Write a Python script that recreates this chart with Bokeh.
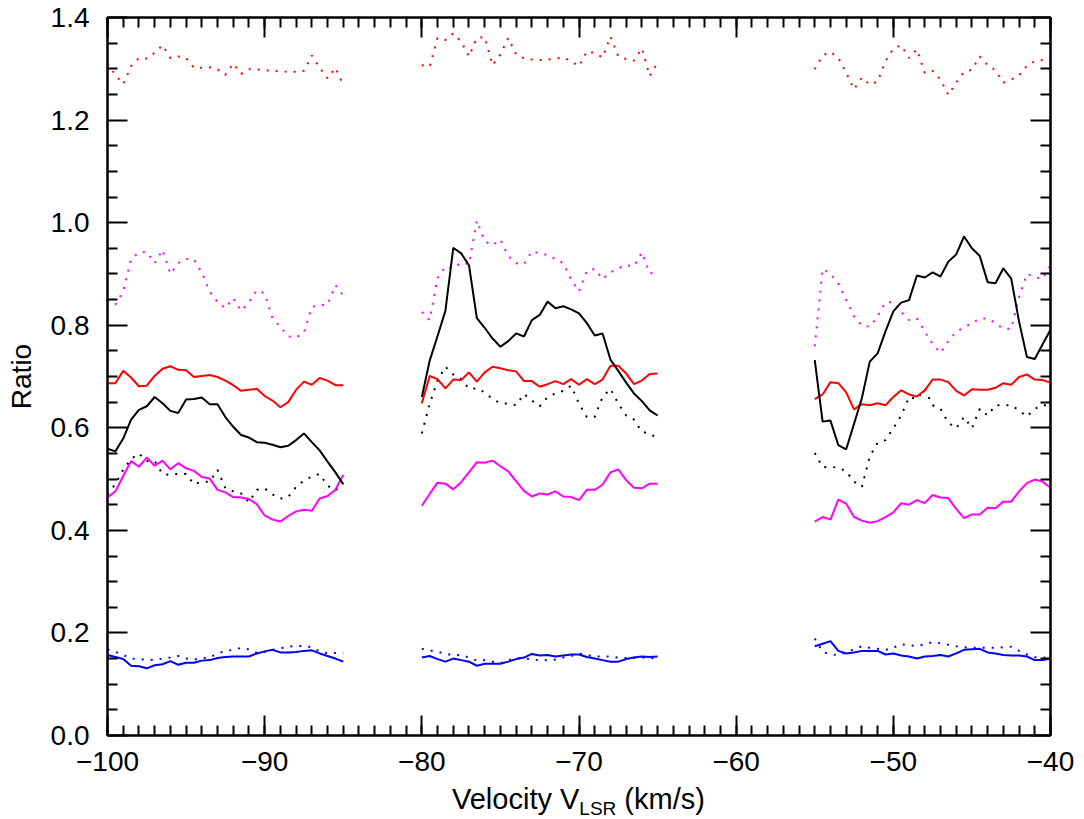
import numpy as np
from bokeh.plotting import figure
from bokeh.models import (Range1d, LinearAxis, SingleIntervalTicker, FixedTicker,
                          CustomJSTickFormatter, Div)
from bokeh.layouts import column
from bokeh.embed import file_html
from bokeh.resources import INLINE

# velocity channels (km/s), 0.5 km/s spacing in three windows
vel_a = np.arange(-100.0, -84.9, 0.5)
vel_b = np.arange(-80.0, -64.9, 0.5)
vel_c = np.arange(-55.0, -39.9, 0.5)

# ---- series values (window a, b, c) ----
red_dot_a = [1.310,1.288,1.270,1.305,1.321,1.320,1.331,1.346,1.321,1.324,1.321,1.302,1.302,1.303,1.299,1.288,1.310,1.290,1.299,1.299,1.297,1.296,1.295,1.294,1.294,1.296,1.326,1.302,1.281,1.302,1.268]
red_dot_b = [1.307,1.304,1.360,1.356,1.369,1.353,1.324,1.360,1.362,1.307,1.328,1.360,1.328,1.320,1.318,1.317,1.318,1.320,1.322,1.315,1.305,1.334,1.331,1.322,1.363,1.324,1.319,1.316,1.340,1.286,1.312]
red_dot_c = [1.299,1.326,1.333,1.321,1.292,1.260,1.283,1.269,1.275,1.315,1.339,1.346,1.321,1.338,1.292,1.296,1.279,1.249,1.273,1.294,1.298,1.324,1.307,1.297,1.273,1.279,1.287,1.306,1.315,1.317,1.320]

mag_dot_a = [0.849,0.840,0.866,0.929,0.942,0.943,0.921,0.947,0.900,0.921,0.929,0.929,0.903,0.866,0.845,0.833,0.853,0.828,0.845,0.868,0.862,0.813,0.797,0.778,0.776,0.785,0.836,0.839,0.840,0.878,0.858]
mag_dot_b = [0.826,0.810,0.892,0.914,0.911,0.922,0.919,1.004,0.964,0.956,0.967,0.935,0.921,0.919,0.944,0.940,0.937,0.929,0.921,0.889,0.866,0.906,0.910,0.890,0.903,0.911,0.917,0.915,0.942,0.901,0.903]
mag_dot_c = [0.759,0.910,0.900,0.881,0.849,0.817,0.799,0.797,0.817,0.845,0.845,0.826,0.810,0.813,0.788,0.763,0.746,0.769,0.787,0.796,0.804,0.813,0.813,0.804,0.793,0.793,0.855,0.900,0.894,0.890,0.917]

red_sol_a = [0.687,0.687,0.711,0.698,0.681,0.682,0.701,0.715,0.720,0.713,0.712,0.699,0.701,0.703,0.699,0.692,0.683,0.672,0.674,0.676,0.662,0.653,0.640,0.650,0.674,0.690,0.684,0.697,0.692,0.683,0.683]
red_sol_b = [0.648,0.701,0.695,0.677,0.694,0.693,0.708,0.690,0.708,0.719,0.716,0.712,0.710,0.691,0.691,0.680,0.685,0.691,0.685,0.695,0.684,0.695,0.685,0.694,0.721,0.721,0.706,0.685,0.692,0.705,0.706]
red_sol_c = [0.656,0.665,0.689,0.687,0.669,0.636,0.646,0.644,0.648,0.644,0.660,0.673,0.665,0.661,0.673,0.694,0.694,0.689,0.672,0.663,0.675,0.674,0.674,0.678,0.687,0.684,0.699,0.704,0.694,0.693,0.688]

blk_sol_a = [0.559,0.554,0.579,0.616,0.635,0.642,0.660,0.648,0.633,0.629,0.655,0.656,0.659,0.646,0.646,0.621,0.602,0.586,0.581,0.572,0.571,0.567,0.562,0.565,0.576,0.589,0.572,0.556,0.534,0.513,0.490]
blk_sol_b = [0.660,0.731,0.779,0.828,0.951,0.940,0.917,0.814,0.795,0.774,0.758,0.769,0.784,0.778,0.810,0.820,0.846,0.833,0.837,0.831,0.823,0.804,0.780,0.784,0.733,0.711,0.688,0.667,0.652,0.634,0.624]
blk_sol_c = [0.732,0.612,0.614,0.566,0.558,0.608,0.658,0.729,0.745,0.788,0.827,0.844,0.849,0.897,0.893,0.903,0.895,0.924,0.938,0.973,0.950,0.935,0.884,0.882,0.911,0.891,0.807,0.738,0.734,0.763,0.791]

blk_dot_a = [0.470,0.490,0.518,0.539,0.550,0.535,0.535,0.510,0.508,0.510,0.510,0.490,0.495,0.495,0.518,0.482,0.476,0.472,0.455,0.479,0.482,0.470,0.462,0.465,0.485,0.497,0.505,0.510,0.487,0.478,0.490]
blk_dot_b = [0.589,0.647,0.692,0.719,0.704,0.695,0.676,0.677,0.669,0.656,0.648,0.647,0.644,0.666,0.653,0.642,0.660,0.667,0.672,0.682,0.647,0.621,0.621,0.660,0.676,0.647,0.624,0.616,0.592,0.589,0.579]
blk_dot_c = [0.551,0.523,0.524,0.522,0.515,0.495,0.485,0.544,0.571,0.576,0.599,0.624,0.660,0.656,0.676,0.644,0.637,0.610,0.599,0.621,0.599,0.637,0.624,0.644,0.644,0.644,0.634,0.622,0.637,0.644,0.644]

mag_sol_a = [0.464,0.476,0.506,0.535,0.524,0.542,0.526,0.536,0.519,0.531,0.521,0.516,0.504,0.501,0.479,0.474,0.465,0.464,0.461,0.451,0.429,0.421,0.417,0.428,0.437,0.440,0.438,0.462,0.467,0.479,0.508]
mag_sol_b = [0.448,0.471,0.493,0.491,0.480,0.494,0.513,0.533,0.532,0.536,0.525,0.515,0.496,0.477,0.466,0.472,0.470,0.476,0.466,0.465,0.459,0.479,0.479,0.489,0.513,0.519,0.498,0.483,0.482,0.491,0.491]
mag_sol_c = [0.417,0.426,0.421,0.460,0.452,0.426,0.419,0.415,0.418,0.426,0.435,0.453,0.450,0.459,0.453,0.469,0.464,0.463,0.442,0.424,0.431,0.431,0.444,0.443,0.456,0.456,0.476,0.492,0.499,0.495,0.483]

blu_sol_a = [0.157,0.153,0.149,0.136,0.135,0.131,0.137,0.139,0.145,0.138,0.142,0.142,0.146,0.147,0.151,0.153,0.154,0.154,0.154,0.160,0.164,0.167,0.162,0.162,0.163,0.165,0.166,0.160,0.155,0.150,0.144]
blu_sol_b = [0.152,0.155,0.149,0.144,0.150,0.147,0.144,0.136,0.140,0.140,0.140,0.144,0.149,0.152,0.159,0.156,0.157,0.154,0.156,0.158,0.158,0.153,0.150,0.147,0.144,0.144,0.149,0.152,0.154,0.153,0.154]
blu_sol_c = [0.174,0.179,0.184,0.165,0.160,0.162,0.165,0.165,0.165,0.158,0.160,0.156,0.154,0.150,0.154,0.155,0.157,0.154,0.160,0.167,0.168,0.169,0.162,0.160,0.157,0.156,0.156,0.154,0.147,0.147,0.150]

blu_dot_a = [0.168,0.163,0.157,0.150,0.149,0.148,0.147,0.150,0.152,0.155,0.150,0.148,0.151,0.152,0.160,0.165,0.167,0.171,0.168,0.161,0.163,0.167,0.170,0.173,0.175,0.174,0.172,0.164,0.160,0.161,0.160]
blu_dot_b = [0.169,0.166,0.163,0.160,0.156,0.157,0.152,0.146,0.147,0.144,0.141,0.147,0.151,0.150,0.149,0.146,0.147,0.148,0.152,0.155,0.160,0.157,0.154,0.154,0.154,0.152,0.151,0.152,0.152,0.151,0.150]
blu_dot_c = [0.189,0.163,0.158,0.157,0.162,0.168,0.174,0.171,0.169,0.167,0.171,0.178,0.176,0.174,0.178,0.182,0.180,0.177,0.174,0.172,0.171,0.171,0.171,0.171,0.172,0.173,0.165,0.158,0.153,0.152,0.151]

y_major_ticks = [0.0, 0.2, 0.4, 0.6, 0.8, 1.0, 1.2, 1.4]
y_minor_ticks = [0.05, 0.1, 0.15, 0.25, 0.3, 0.35, 0.45, 0.5, 0.55, 0.65, 0.7, 0.75,
                 0.85, 0.9, 0.95, 1.05, 1.1, 1.15, 1.25, 1.3, 1.35]

FONT = "Liberation Sans"
TICK_SIZE = "28px"

p = figure(width=1084, height=784, output_backend="svg", toolbar_location=None,
           x_range=Range1d(-100, -40), y_range=Range1d(0, 1.4),
           x_axis_type=None, y_axis_type=None,
           min_border_left=107, min_border_right=34, min_border_top=17, min_border_bottom=49)
p.grid.visible = False
p.outline_line_color = "black"
p.outline_line_width = 2
p.background_fill_color = "white"
p.border_fill_color = "white"

xfmt = CustomJSTickFormatter(code="return tick < 0 ? '\u2212' + Math.abs(tick) : String(tick);")
yfmt = CustomJSTickFormatter(code="return tick.toFixed(1);")
blank = CustomJSTickFormatter(code="return '';")

def style_axis(ax, show_labels):
    ax.axis_line_width = 2
    ax.axis_line_color = "black"
    ax.major_tick_in = 20
    ax.major_tick_out = 0
    ax.minor_tick_in = 10
    ax.minor_tick_out = 0
    ax.major_tick_line_width = 2
    ax.minor_tick_line_width = 2
    ax.major_tick_line_color = "black"
    ax.minor_tick_line_color = "black"
    ax.major_label_text_font = FONT
    ax.major_label_text_color = "black"
    if show_labels:
        ax.major_label_text_font_size = TICK_SIZE
    else:
        ax.major_label_text_font_size = "0px"
        ax.major_label_standoff = 0

def x_ticker():
    return SingleIntervalTicker(interval=10, num_minor_ticks=10)

def y_ticker():
    return FixedTicker(ticks=y_major_ticks, minor_ticks=y_minor_ticks)

xb = LinearAxis(ticker=x_ticker(), formatter=xfmt)
style_axis(xb, True)
xb.major_label_standoff = 16
p.add_layout(xb, "below")

xt = LinearAxis(ticker=x_ticker(), formatter=blank)
style_axis(xt, False)
p.add_layout(xt, "above")

yl = LinearAxis(ticker=y_ticker(), formatter=yfmt)
style_axis(yl, True)
yl.major_label_standoff = 18
yl.axis_label = "Ratio"
yl.axis_label_text_font = FONT
yl.axis_label_text_font_size = "28px"
yl.axis_label_text_font_style = "normal"
yl.axis_label_text_color = "black"
yl.axis_label_standoff = 11
p.add_layout(yl, "left")

yr = LinearAxis(ticker=y_ticker(), formatter=blank)
style_axis(yr, False)
p.add_layout(yr, "right")

DOT = "2 7"
series = [
    (red_dot_a, red_dot_b, red_dot_c, "#ff0000", DOT),
    (mag_dot_a, mag_dot_b, mag_dot_c, "#ff00ff", DOT),
    (blk_dot_a, blk_dot_b, blk_dot_c, "#000000", DOT),
    (blu_dot_a, blu_dot_b, blu_dot_c, "#0000ff", DOT),
    (red_sol_a, red_sol_b, red_sol_c, "#ff0000", "solid"),
    (mag_sol_a, mag_sol_b, mag_sol_c, "#ff00ff", "solid"),
    (blk_sol_a, blk_sol_b, blk_sol_c, "#000000", "solid"),
    (blu_sol_a, blu_sol_b, blu_sol_c, "#0000ff", "solid"),
]
for sa, sb, sc, col, dash in series:
    for xs, ys in ((vel_a, sa), (vel_b, sb), (vel_c, sc)):
        p.line(xs, ys, line_color=col, line_width=2, line_dash=dash)

xlabel = Div(
    text=('<div style="padding-left:452px; font-family:\'Liberation Sans\'; font-size:29px; '
          'line-height:30px; white-space:nowrap; color:black;">Velocity V'
          '<span style="font-size:19px; position:relative; top:6px;">LSR</span>'
          ' (km/s)</div>'),
    width=1084, height=35, margin=(0, 0, 0, 0))

layout = column(p, xlabel, spacing=0)

open("out.html", "w").write(file_html(layout, INLINE))
